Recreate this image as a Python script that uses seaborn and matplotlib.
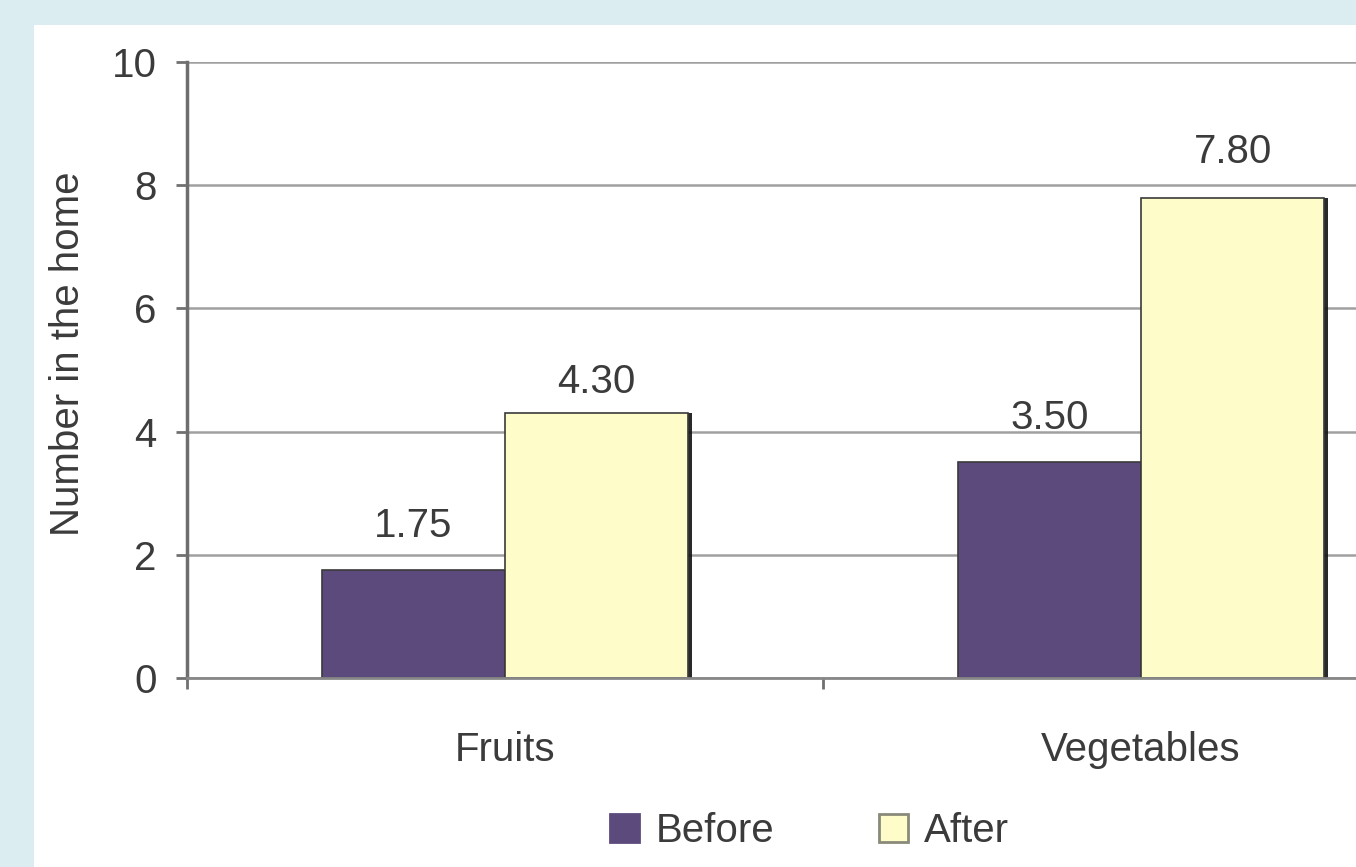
"""
Before / after bar chart: fruits and vegetables in the home
"""
import pandas as pd
import matplotlib
matplotlib.use("Agg")
import matplotlib.pyplot as plt
import matplotlib.patheffects as pe
from matplotlib.patches import Rectangle
import seaborn as sns

# data
categories = ["Fruits", "Vegetables"]
before = [1.75, 3.50]
after = [4.30, 7.80]
series = ["Before", "After"]
y_ticks = [0, 2, 4, 6, 8, 10]

df = pd.DataFrame({
    "Category": categories * 2,
    "Value": before + after,
    "Period": [series[0]] * len(before) + [series[1]] * len(after),
})

sns.set_theme(style="white")
plt.rcParams["font.family"] = ["Liberation Sans", "DejaVu Sans"]
text_color = "#3b3b3b"
fs = 29

fig = plt.figure(figsize=(13.56, 8.67), dpi=100)
fig.patch.set_facecolor("#dcedf1")
# white card behind the chart
fig.patches.append(Rectangle((34 / 1356, 0), 1, (867 - 25) / 867,
                             transform=fig.transFigure, facecolor="white",
                             edgecolor="none", zorder=-5))

# axes runs off the right edge like in the original screenshot
ax = fig.add_axes([187 / 1356, 0.218, 1272 / 1356, 0.7105])
ax.set_facecolor("none")

sns.barplot(data=df, x="Category", y="Value", hue="Period",
            palette=["#5c4a7c", "#fefcc8"], saturation=1, width=0.576,
            edgecolor="#3a3a3a", linewidth=1.2, ax=ax)

handles, labels = ax.get_legend_handles_labels()
ax.get_legend().remove()

# dark right-hand shadow on the bars
for p in ax.patches:
    p.set_path_effects([pe.SimplePatchShadow(offset=(3, 0), shadow_rgbFace="#111111", alpha=0.9),
                        pe.Normal()])

# value labels above bars (label offsets in the original are a bit uneven)
label_pads = [[18, 18], [9, 19]]
for cont, pads in zip(ax.containers, label_pads):
    for bar, v, pad in zip(cont, cont.datavalues, pads):
        ax.annotate(f"{v:.2f}", (bar.get_x() + bar.get_width() / 2, bar.get_height()),
                    xytext=(0, pad), textcoords="offset points", ha="center", va="bottom",
                    fontsize=fs, color=text_color)

ax.set_xlim(-0.5, 1.5)
ax.set_ylim(0, 10)
ax.set_yticks(y_ticks)
ax.set_yticklabels([str(t) for t in y_ticks], fontsize=fs, color=text_color)
ax.yaxis.grid(True, color="#a0a0a0", linewidth=1.8)
ax.set_axisbelow(True)

# ticks on category boundaries, labels in the middle
ax.set_xticks([-0.5, 0.5, 1.5])
ax.set_xticklabels([])
ax.set_xticks([0, 1], minor=True)
ax.set_xticklabels(categories, minor=True, fontsize=fs, color=text_color)
ax.tick_params(axis="x", which="major", direction="out", length=8, width=2,
               color="#707070", bottom=True)
ax.tick_params(axis="x", which="minor", length=0, pad=38)
ax.tick_params(axis="y", direction="out", length=8, width=2, color="#707070",
               left=True, pad=14)

ax.set_xlabel("")
ax.set_ylabel("Number in the home", fontsize=fs, color=text_color)
ax.yaxis.set_label_coords(-0.079, 0.526)

for s in ["top", "right"]:
    ax.spines[s].set_visible(False)
ax.spines["left"].set_color("#6e6e6e")
ax.spines["left"].set_linewidth(2.5)
ax.spines["bottom"].set_color("#888888")
ax.spines["bottom"].set_linewidth(2)

leg = fig.legend(handles, labels, loc="center", bbox_to_anchor=(0.597, 0.041),
                 ncol=2, frameon=False, fontsize=fs, handlelength=0.72, handleheight=0.7,
                 handletextpad=0.4, columnspacing=2.6, labelcolor=text_color)
for h, ec in zip(leg.get_patches(), ["#5c4a7c", "#8a8a7a"]):
    h.set_path_effects([])
    h.set_edgecolor(ec)
    h.set_linewidth(2)

fig.savefig("out.png", dpi=100, facecolor=fig.get_facecolor())
